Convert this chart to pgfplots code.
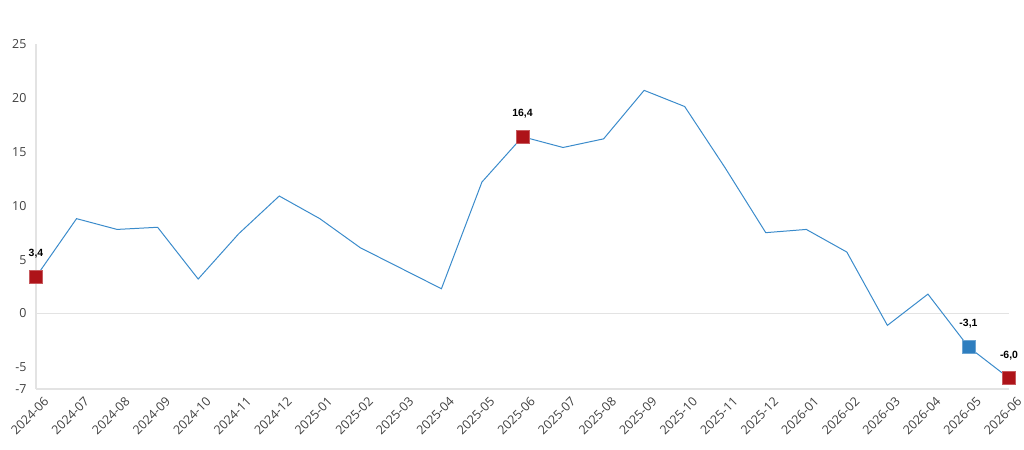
\documentclass[border=0pt]{standalone}
\usepackage{pgfplots}
\pgfplotsset{compat=1.18}
\usepackage{fontspec}
\setmainfont{Open Sans}
\newfontfamily\lblfont{Liberation Sans}
\definecolor{linec}{HTML}{3A8BCB}
\definecolor{redm}{HTML}{AE1319}
\definecolor{bluem}{HTML}{2E7EBF}
\definecolor{axc}{HTML}{E3E3E3}
\definecolor{tickc}{HTML}{404040}
\begin{document}
\begin{tikzpicture}[x=1bp,y=1bp]
\useasboundingbox (0,0) rectangle (1024,450);
\begin{axis}[
  at={(36bp,61bp)}, anchor=south west,
  scale only axis, width=973bp, height=345bp,
  xmin=0, xmax=24, ymin=-7, ymax=25,
  clip=false,
  axis lines=left,
  axis line style={axc, line width=1.2pt, -},
  ytick={-7,-5,0,5,10,15,20,25},
  xtick={0,...,24},
  xticklabels={2024-06,2024-07,2024-08,2024-09,2024-10,2024-11,2024-12,2025-01,2025-02,2025-03,2025-04,2025-05,2025-06,2025-07,2025-08,2025-09,2025-10,2025-11,2025-12,2026-01,2026-02,2026-03,2026-04,2026-05,2026-06},
  major tick length=0pt,
  /pgf/number format/assume math mode=true,
  tick label style={font=\fontsize{12.5}{14}\selectfont, text=tickc},
  xticklabel style={rotate=45, anchor=north east, inner sep=1pt, yshift=-9bp, xshift=1bp},
  yticklabel style={xshift=-6bp},
  extra y ticks={0}, extra y tick labels={},
  extra y tick style={grid=major, major grid style={axc, line width=1.2pt}},
]
\addplot[linec, line width=1pt] coordinates {
(0,3.4) (1,8.8) (2,7.8) (3,8.0) (4,3.2) (5,7.4) (6,10.9) (7,8.8) (8,6.1) (9,4.2) (10,2.3) (11,12.2) (12,16.4) (13,15.4) (14,16.2) (15,20.7) (16,19.2) (17,13.5) (18,7.5) (19,7.8) (20,5.7) (21,-1.1) (22,1.8) (23,-3.1) (24,-6.0)
};
\addplot[only marks, mark=square*, mark size=6.5bp, mark options={fill=redm, draw=redm!70!white, line width=0.5pt},
  nodes near coords, point meta=explicit symbolic,
  every node near coord/.append style={font=\lblfont\bfseries\fontsize{10.5}{12}\selectfont, text=black, yshift=15bp}]
 coordinates {(0,3.4) [3,4] (12,16.4) [16,4] (24,-6.0) [-6,0]};
\addplot[only marks, mark=square*, mark size=6.5bp, mark options={fill=bluem, draw=bluem!70!white, line width=0.5pt},
  nodes near coords, point meta=explicit symbolic,
  every node near coord/.append style={font=\lblfont\bfseries\fontsize{10.5}{12}\selectfont, text=black, yshift=15bp}]
 coordinates {(23,-3.1) [-3,1]};
\end{axis}
\end{tikzpicture}
\end{document}
